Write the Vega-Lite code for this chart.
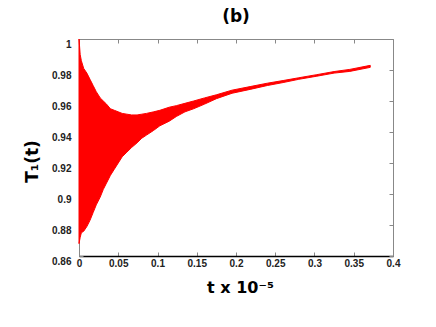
{
  "$schema": "https://vega.github.io/schema/vega-lite/v6.json",
  "width": 314,
  "height": 217,
  "autosize": {"type": "none"},
  "padding": {"left": 79, "top": 39, "right": 43, "bottom": 71},
  "background": "white",
  "view": {"stroke": null},
  "title": {"text": "(b)", "font": "DejaVu Sans", "fontSize": 17, "fontWeight": "bold", "color": "black", "anchor": "middle", "baseline": "bottom", "offset": -7},
  "data": {"values": [
    {"t": 0.0, "hi": 1.0, "lo": 0.868},
    {"t": 0.0015, "hi": 0.99, "lo": 0.872},
    {"t": 0.003, "hi": 0.986, "lo": 0.875},
    {"t": 0.006, "hi": 0.981, "lo": 0.876},
    {"t": 0.01, "hi": 0.978, "lo": 0.879},
    {"t": 0.014, "hi": 0.974, "lo": 0.883},
    {"t": 0.018, "hi": 0.97, "lo": 0.888},
    {"t": 0.022, "hi": 0.966, "lo": 0.893},
    {"t": 0.027, "hi": 0.962, "lo": 0.898},
    {"t": 0.031, "hi": 0.96, "lo": 0.903},
    {"t": 0.035, "hi": 0.958, "lo": 0.907},
    {"t": 0.04, "hi": 0.955, "lo": 0.912},
    {"t": 0.045, "hi": 0.954, "lo": 0.916},
    {"t": 0.05, "hi": 0.953, "lo": 0.92},
    {"t": 0.055, "hi": 0.952, "lo": 0.924},
    {"t": 0.061, "hi": 0.9515, "lo": 0.927},
    {"t": 0.067, "hi": 0.951, "lo": 0.93},
    {"t": 0.074, "hi": 0.951, "lo": 0.933},
    {"t": 0.08, "hi": 0.9515, "lo": 0.936},
    {"t": 0.086, "hi": 0.952, "lo": 0.938},
    {"t": 0.095, "hi": 0.953, "lo": 0.941},
    {"t": 0.103, "hi": 0.954, "lo": 0.944},
    {"t": 0.115, "hi": 0.956, "lo": 0.947},
    {"t": 0.124, "hi": 0.957, "lo": 0.95},
    {"t": 0.135, "hi": 0.9585, "lo": 0.953},
    {"t": 0.146, "hi": 0.96, "lo": 0.955},
    {"t": 0.16, "hi": 0.962, "lo": 0.958},
    {"t": 0.175, "hi": 0.964, "lo": 0.9615},
    {"t": 0.195, "hi": 0.967, "lo": 0.965},
    {"t": 0.218, "hi": 0.9693, "lo": 0.9675},
    {"t": 0.24, "hi": 0.9715, "lo": 0.97},
    {"t": 0.26, "hi": 0.9732, "lo": 0.9719},
    {"t": 0.28, "hi": 0.975, "lo": 0.974},
    {"t": 0.303, "hi": 0.977, "lo": 0.976},
    {"t": 0.325, "hi": 0.979, "lo": 0.978},
    {"t": 0.345, "hi": 0.9804, "lo": 0.9791},
    {"t": 0.371, "hi": 0.983, "lo": 0.9817}
  ]},
  "resolve": {"axis": {"x": "independent", "y": "independent"}},
  "layer": [
    {
      "mark": {"type": "area", "color": "#ff0000", "stroke": "#ff0000", "strokeWidth": 1},
      "encoding": {
        "x": {"field": "t", "type": "quantitative", "scale": {"domain": [0, 0.4], "nice": false, "zero": false},
          "axis": {"orient": "bottom", "title": "t x 10⁻⁵", "values": [0, 0.05, 0.1, 0.15, 0.2, 0.25, 0.3, 0.35, 0.4], "format": ".2~f",
            "grid": false, "domainColor": "black", "domainWidth": 1.5, "tickColor": "#888888", "tickSize": -4, "labelPadding": 6,
            "labelFont": "Liberation Sans", "labelFontSize": 10, "labelFontWeight": "bold", "labelColor": "#222222", "labelFlush": false,
            "titleFont": "DejaVu Sans", "titleFontSize": 16, "titleFontWeight": "bold", "titleColor": "black",
            "titleX": 161, "titleY": 36, "titleBaseline": "alphabetic", "titleAnchor": null, "titleAlign": "center"}},
        "y": {"field": "hi", "type": "quantitative", "scale": {"domain": [0.86, 1.0], "nice": false, "zero": false},
          "axis": {"orient": "left", "title": "T₁(t)", "values": [0.86, 0.88, 0.9, 0.92, 0.94, 0.96, 0.98, 1.0], "format": ".2~f",
            "grid": false, "domainColor": "#888888", "domainWidth": 1, "tickColor": "#888888", "tickSize": -4, "labelPadding": 12,
            "labelBaseline": "top", "labelFont": "Liberation Sans", "labelFontSize": 10, "labelFontWeight": "bold", "labelColor": "#222222", "labelFlush": false,
            "titleFont": "DejaVu Sans", "titleFontSize": 17, "titleFontWeight": "bold", "titleColor": "black",
            "titleAngle": -90, "titleX": -47, "titleY": 122, "titleBaseline": "middle", "titleAlign": "center", "titleAnchor": null}},
        "y2": {"field": "lo"}
      }
    },
    {
      "mark": {"type": "point", "opacity": 0},
      "encoding": {
        "x": {"field": "t", "type": "quantitative",
          "axis": {"orient": "top", "title": null, "labels": false, "values": [0, 0.05, 0.1, 0.15, 0.2, 0.25, 0.3, 0.35, 0.4],
            "grid": false, "domainColor": "#888888", "domainWidth": 1, "tickColor": "#888888", "tickSize": -4}},
        "y": {"field": "hi", "type": "quantitative",
          "axis": {"orient": "right", "title": null, "labels": false, "values": [0.86, 0.88, 0.9, 0.92, 0.94, 0.96, 0.98, 1.0],
            "grid": false, "domainColor": "#888888", "domainWidth": 1, "tickColor": "#888888", "tickSize": -4}}
      }
    }
  ]
}
